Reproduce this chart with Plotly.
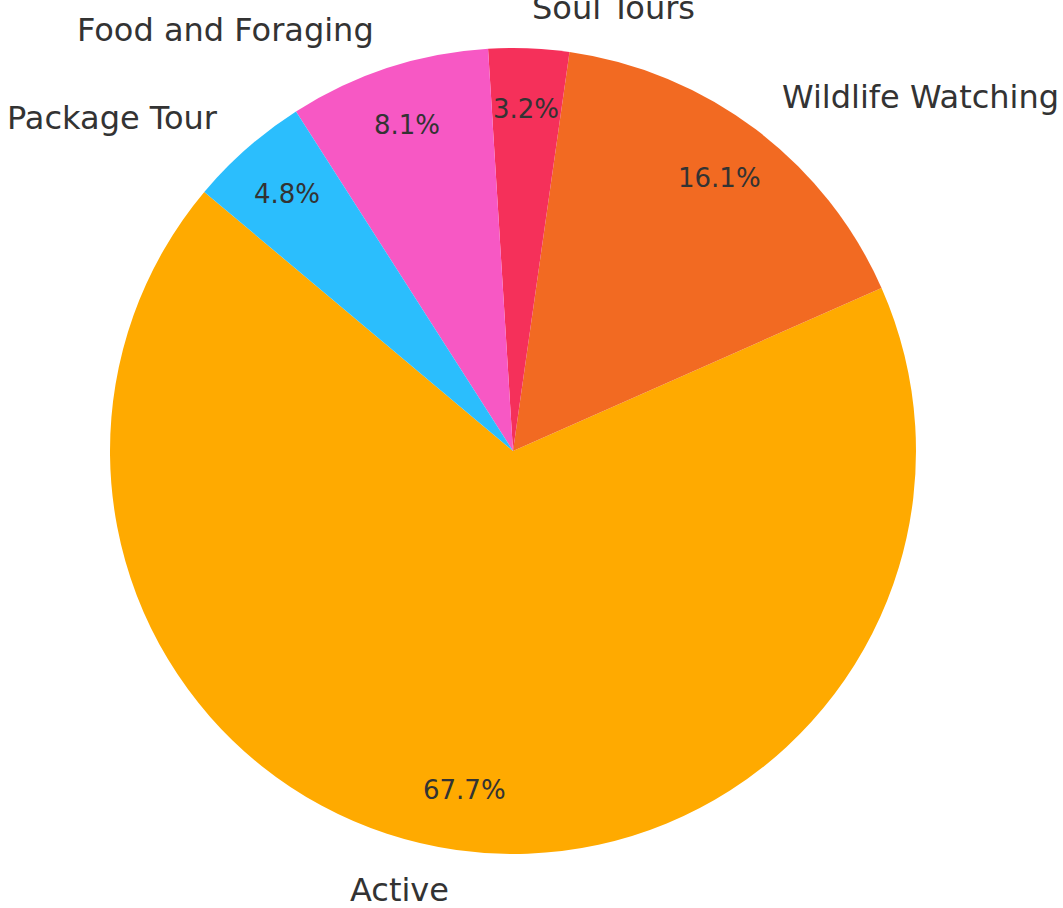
import math
import plotly.graph_objects as go

# Tour categories and their counts
categories = ["Active", "Wildlife Watching", "Soul Tours", "Food and Foraging", "Package Tour"]
counts = [42, 10, 2, 5, 3]
colors = ["#FFAA00", "#F26A22", "#F5305A", "#F758C4", "#2BBEFD"]

W, H = 1063, 908
CX, CY, R = 513, 451, 403          # pie centre and radius in pixels
START_DEG = 140                    # first slice starts here (CCW from +x)
LABEL_DIST, PCT_DIST = 1.1, 0.85
FONT = "DejaVu Sans"
TEXT_COLOR = "#333333"

total = sum(counts)

# Plotly's counterclockwise pies use `rotation` (clockwise from 12 o'clock)
# as the boundary between the first and second slices.
first_end = START_DEG + 360 * counts[0] / total
rotation = ((90 - first_end) + 180) % 360 - 180

fig = go.Figure(go.Pie(
    labels=categories,
    values=counts,
    marker=dict(colors=colors, line=dict(width=0)),
    sort=False,
    direction="counterclockwise",
    rotation=rotation,
    textinfo="none",
    hoverinfo="label+percent",
    showlegend=False,
    domain=dict(x=[(CX - R) / W, (CX + R) / W],
                y=[(H - CY - R) / H, (H - CY + R) / H]),
))

annotations = []
angle = START_DEG
for name, v in zip(categories, counts):
    span = 360 * v / total
    mid = math.radians(angle + span / 2)
    angle += span
    c, s = math.cos(mid), math.sin(mid)
    # category label outside the pie
    lx, ly = CX + LABEL_DIST * R * c, CY - LABEL_DIST * R * s
    annotations.append(dict(
        x=lx / W, y=1 - ly / H, xref="paper", yref="paper",
        text=name, showarrow=False,
        xanchor="left" if c >= 0 else "right", yanchor="middle",
        font=dict(family=FONT, size=32, color=TEXT_COLOR),
    ))
    # percentage inside the slice
    px, py = CX + PCT_DIST * R * c, CY - PCT_DIST * R * s
    annotations.append(dict(
        x=px / W, y=1 - py / H, xref="paper", yref="paper",
        text=f"{100 * v / total:.1f}%", showarrow=False,
        xanchor="center", yanchor="middle",
        font=dict(family=FONT, size=26, color=TEXT_COLOR),
    ))

fig.update_layout(
    width=W, height=H,
    margin=dict(l=0, r=0, t=0, b=0),
    paper_bgcolor="white",
    plot_bgcolor="white",
    annotations=annotations,
)

fig.write_html("out.html")
